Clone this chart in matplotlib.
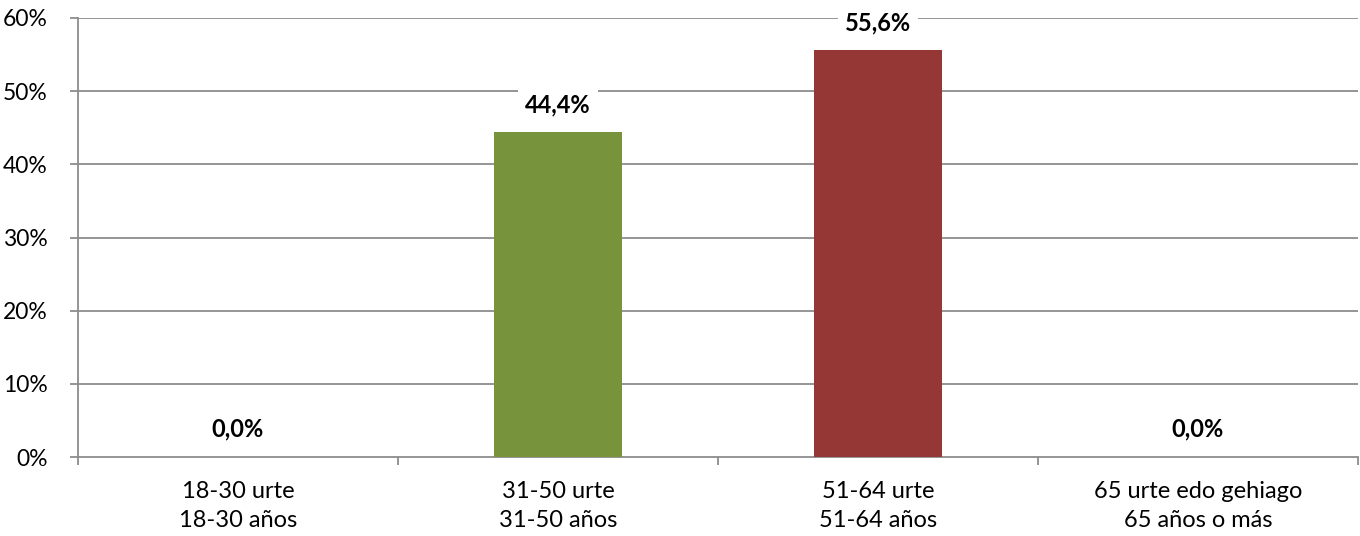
import matplotlib
matplotlib.use('Agg')
import matplotlib.pyplot as plt
import numpy as np

plt.rcParams['font.family'] = ['Lato', 'DejaVu Sans']

# Data
categories = ['18-30 urte\n18-30 años', '31-50 urte\n31-50 años',
              '51-64 urte\n51-64 años', '65 urte edo gehiago\n65 años o más']
values = [0.0, 44.4, 55.6, 0.0]
bar_colors = ['#4f81bd', '#77933c', '#953735', '#8064a2']
yticks = [0, 10, 20, 30, 40, 50, 60]

grid_color = '#8c8c8c'

fig = plt.figure(figsize=(13.6, 5.36), dpi=100)
ax = fig.add_axes([78 / 1360, 1 - 457 / 536, (1358 - 78) / 1360, (457 - 18) / 536])

x = np.arange(len(categories))
ax.bar(x, values, width=0.4, color=bar_colors, edgecolor='none', zorder=3)

for xi, v in zip(x, values):
    label = f'{v:.1f}'.replace('.', ',') + '%'
    ax.text(xi, v + 2.2, label, ha='center', va='bottom', fontsize=17, fontweight='bold',
            color='black', zorder=5,
            bbox=dict(facecolor='white', edgecolor='none', pad=5))

ax.set_xlim(-0.5, len(categories) - 0.5)
ax.set_ylim(0, 60)
ax.set_yticks(yticks)
ax.set_yticklabels([f'{t}%' for t in yticks], fontsize=16.5)
for t in yticks[1:]:
    ax.axhline(t, color=grid_color, linewidth=1.3, zorder=1)

ax.set_xticks(x)
ax.set_xticklabels(categories, fontsize=17, linespacing=1.5)
ax.set_xticks(np.arange(-0.5, len(categories)), minor=True)
ax.tick_params(axis='x', which='major', length=0, pad=17)
ax.tick_params(axis='x', which='minor', length=6, color=grid_color, width=1.3)
ax.tick_params(axis='y', length=6, color=grid_color, width=1.3, pad=16)

for s in ['top', 'right']:
    ax.spines[s].set_visible(False)
ax.spines['left'].set_color(grid_color)
ax.spines['bottom'].set_color(grid_color)
ax.spines['left'].set_linewidth(1.3)
ax.spines['bottom'].set_linewidth(1.3)

fig.savefig('out.png', dpi=100)
